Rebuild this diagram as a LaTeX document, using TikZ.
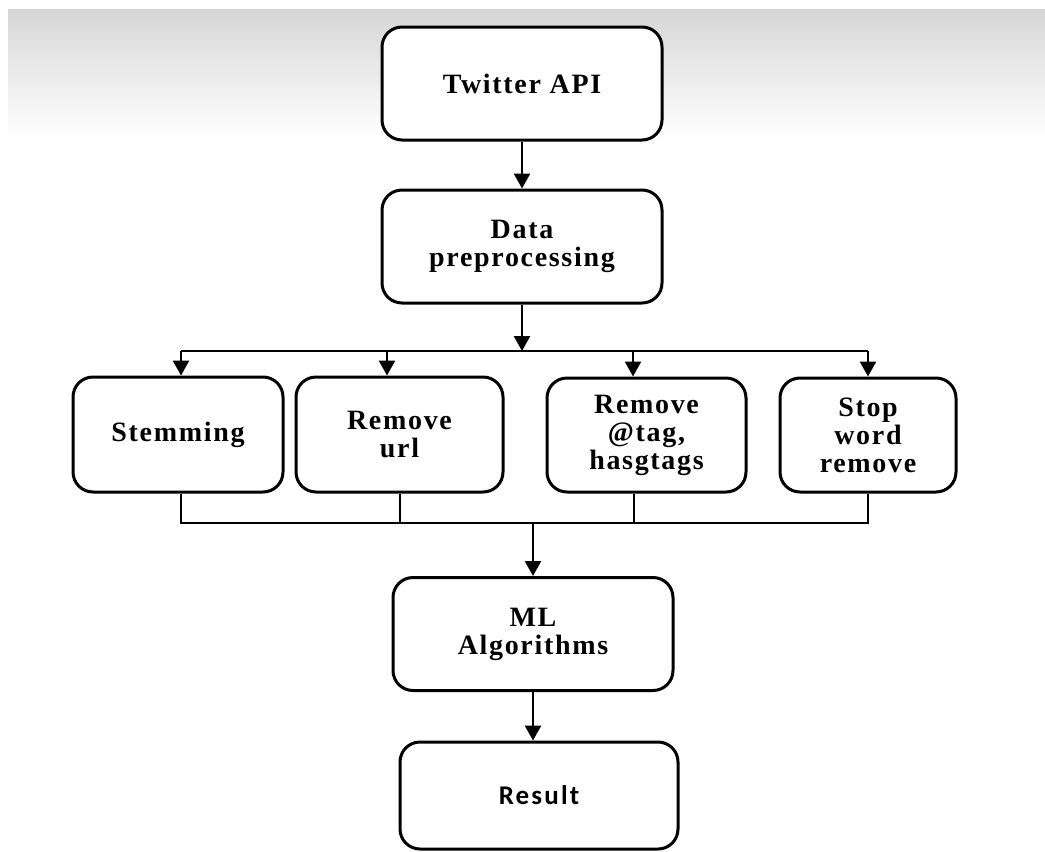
\documentclass[tikz,border=0pt]{standalone}
\usepackage{fontspec}
\setmainfont{Liberation Serif}
\newfontfamily\lblfont{Liberation Serif Bold}[LetterSpace=6]
\newfontfamily\resfont{Carlito Bold}[LetterSpace=8]
\usetikzlibrary{arrows.meta}
\tikzset{
  box/.style={draw=black, line width=3pt, rounded corners=20pt, fill=white,
    align=center, inner sep=0pt,
    font=\lblfont\fontsize{28}{28}\selectfont},
  conn/.style={draw=black, line width=2.6pt},
  arr/.style={conn, -{Triangle[width=16pt,length=15pt]}},
}
\begin{document}
\begin{tikzpicture}[x=1pt,y=-1pt]
\useasboundingbox (0,0) rectangle (1045,852);
\fill[white] (0,0) rectangle (1045,852);
\shade[top color=black!16, bottom color=white] (8,9) rectangle (1045,138);

\node[box, minimum width=280, minimum height=113] (api) at (522,83.5) {Twitter API};
\node[box, minimum width=280, minimum height=113] (pre) at (522,246.5) {Data\\preprocessing};
\node[box, minimum width=210, minimum height=115] (stem) at (178,434.5) {Stemming};
\node[box, minimum width=207, minimum height=115] (url) at (399.5,434.5) {Remove\\url};
\node[box, minimum width=199, minimum height=114] (tag) at (646.5,435) {Remove\\@tag,\\hasgtags};
\node[box, minimum width=176, minimum height=114] (stop) at (868,435) {Stop\\word\\remove};
\node[box, minimum width=280, minimum height=113] (ml) at (533,634) {ML\\Algorithms};
\node[box, minimum width=278, minimum height=107, font=\resfont\fontsize{27}{28}\selectfont] (res) at (539,795.5) {Result};

% top connectors
\draw[arr] (api) -- (pre);
\coordinate (split) at (522,351);
\draw[arr] (pre) -- (split);

% distribution bus
\coordinate (b1) at (181,351);
\coordinate (b2) at (387,351);
\coordinate (b3) at (633,351);
\coordinate (b4) at (868,351);
\draw[conn] (b1) -- (b4);
\draw[arr] (b1) -- (b1 |- stem.north);
\draw[arr] (b2) -- (b2 |- url.north);
\draw[arr] (b3) -- (b3 |- tag.north);
\draw[arr] (b4) -- (b4 |- stop.north);

% collecting bus
\coordinate (c1) at (181,523);
\coordinate (c2) at (400,523);
\coordinate (c3) at (634,523);
\coordinate (c4) at (868,523);
\draw[conn] (c1 |- stem.south) -- (c1) -- (c4) -- (c4 |- stop.south);
\draw[conn] (c2 |- url.south) -- (c2);
\draw[conn] (c3 |- tag.south) -- (c3);
\coordinate (join) at (533,523);
\draw[arr] (join) -- (ml);

% bottom connector
\draw[arr] (ml.south) -- (ml.south |- res.north);
\end{tikzpicture}
\end{document}
